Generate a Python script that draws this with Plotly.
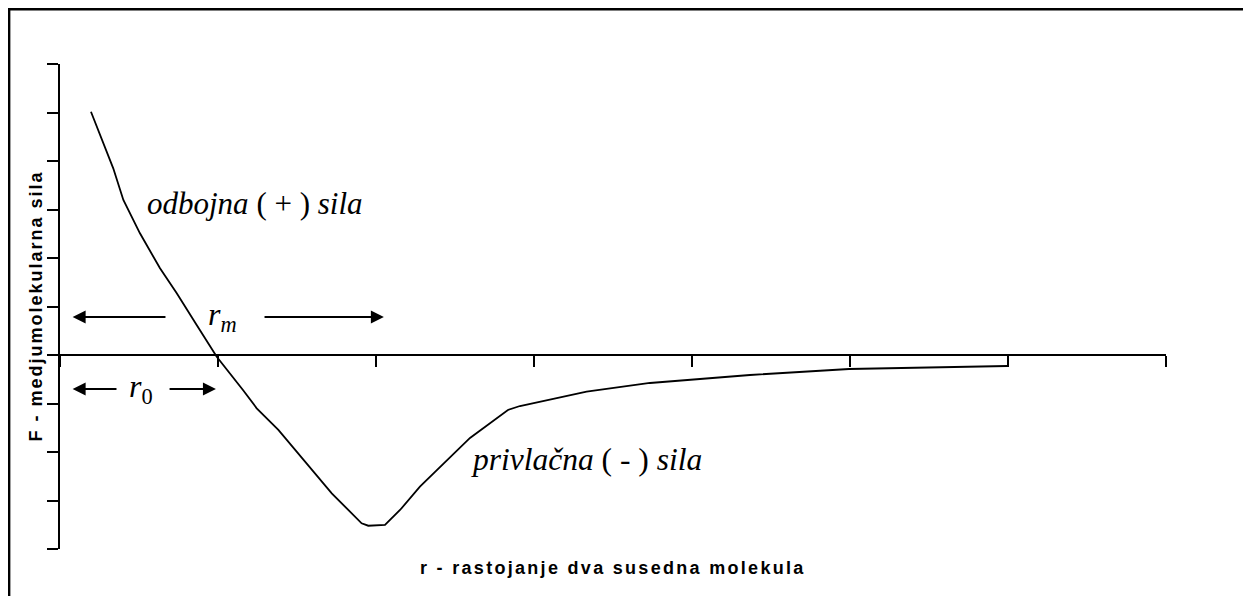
import plotly.graph_objects as go

# distance r (x-axis units) and intermolecular force F (y-axis units)
r_values = [0.196, 0.274, 0.337, 0.401, 0.506, 0.633, 0.739, 0.865, 0.992, 1.158,
            1.245, 1.382, 1.625, 1.720, 1.909, 1.951, 2.057, 2.152, 2.278, 2.595,
            2.835, 2.911, 3.333, 3.734, 4.367, 4.994, 5.994]
f_values = [5.016, 4.365, 3.849, 3.196, 2.509, 1.788, 1.272, 0.619, -0.035, -0.722,
            -1.099, -1.546, -2.474, -2.852, -3.470, -3.520, -3.505, -3.196, -2.716, -1.711,
            -1.134, -1.052, -0.757, -0.577, -0.412, -0.289, -0.227]

x_ticks = [0, 1, 2, 3, 4, 5, 6, 7]
y_ticks = [-4, -3, -2, -1, 0, 1, 2, 3, 4, 5, 6]

R0 = 1.0      # equilibrium distance (F = 0)
RM = 2.05     # distance of maximal attraction
ARROW_START = 0.08

x_title = "r - rastojanje dva susedna molekula"
y_title = "F - medjumolekularna sila"

fig = go.Figure()
fig.add_trace(go.Scatter(x=r_values, y=f_values, mode="lines",
                         line=dict(color="black", width=1.8), hoverinfo="skip",
                         showlegend=False))

serif = "Liberation Serif, Times New Roman, serif"
sans = "Liberation Sans, Arial, sans-serif"

ann = []
# text labels
ann.append(dict(x=1.234, y=3.13, xref="x", yref="y", showarrow=False,
                text="<i>odbojna</i> ( + ) <i>sila</i>",
                font=dict(family=serif, size=31, color="black")))
ann.append(dict(x=3.33, y=-2.16, xref="x", yref="y", showarrow=False,
                text="<i>privlačna</i> ( - ) <i>sila</i>",
                font=dict(family=serif, size=31.5, color="black")))
ann.append(dict(x=1.03, y=0.80, xref="x", yref="y", showarrow=False,
                text="<i>r</i><sub><i>m</i></sub>",
                font=dict(family=serif, size=32, color="black")))
ann.append(dict(x=0.51, y=-0.70, xref="x", yref="y", showarrow=False,
                text="<i>r</i><sub>0</sub>",
                font=dict(family=serif, size=32, color="black")))

arrow_style = dict(xref="x", yref="y", axref="x", ayref="y", showarrow=True,
                   arrowhead=2, arrowsize=1.3, arrowwidth=2, arrowcolor="black", text="")
y_rm = 0.784
y_r0 = -0.70
ann.append(dict(x=ARROW_START, y=y_rm, ax=0.677, ay=y_rm, **arrow_style))
ann.append(dict(x=RM, y=y_rm, ax=1.285, ay=y_rm, **arrow_style))
ann.append(dict(x=ARROW_START, y=y_r0, ax=0.367, ay=y_r0, **arrow_style))
ann.append(dict(x=R0 - 0.013, y=y_r0, ax=0.684, ay=y_r0, **arrow_style))

# axis titles
ann.append(dict(x=0.5, y=0, xref="paper", yref="paper", yshift=-19, showarrow=False,
                yanchor="middle",
                text='<b><span style="letter-spacing:2.3px">' + x_title + '</span></b>',
                font=dict(family=sans, size=18, color="black")))
ann.append(dict(x=0, y=0.5, xref="paper", yref="paper", xshift=-25, showarrow=False,
                xanchor="center", textangle=-90,
                text='<b><span style="letter-spacing:2px">' + y_title + '</span></b>',
                font=dict(family=sans, size=18, color="black")))

fig.update_layout(
    width=1251, height=596,
    margin=dict(l=52, r=93, t=56, b=55),
    paper_bgcolor="white", plot_bgcolor="white",
    annotations=ann,
    shapes=[dict(type="rect", xref="paper", yref="paper",
                 x0=-0.046, x1=1.5, y0=-0.5, y1=1.113,
                 line=dict(color="black", width=2.5), layer="below")],
    xaxis=dict(range=[0, 7], tickvals=x_ticks, showticklabels=False,
               ticks="outside", ticklen=11, tickwidth=2, tickcolor="black",
               showline=True, linecolor="black", linewidth=1.5,
               showgrid=False, zeroline=False, anchor="free", position=0.4),
    yaxis=dict(range=[-4, 6], tickvals=y_ticks, showticklabels=False,
               ticks="outside", ticklen=11, tickwidth=2, tickcolor="black",
               showline=True, linecolor="black", linewidth=1.5,
               showgrid=False, zeroline=False),
)

fig.write_html("out.html")
